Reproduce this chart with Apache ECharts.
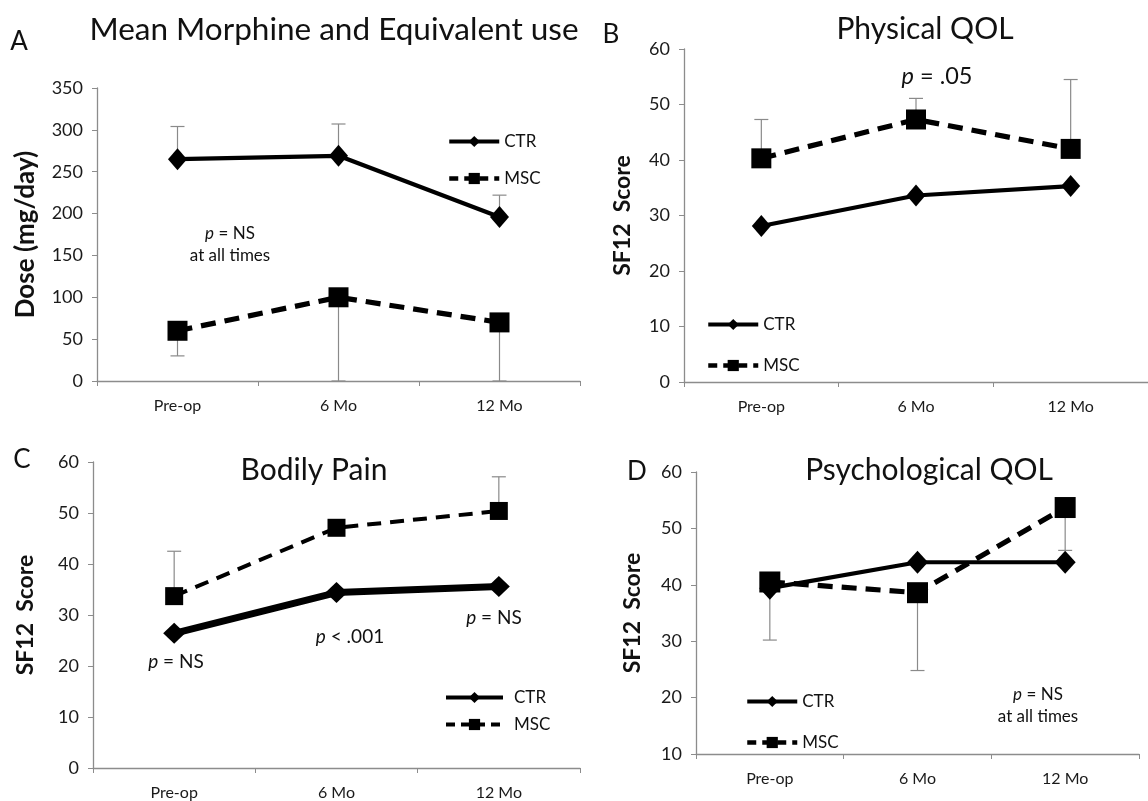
<!DOCTYPE html>
<html>
<head>
<meta charset="utf-8">
<script src="https://cdn.jsdelivr.net/npm/echarts@6/dist/echarts.min.js"></script>
<style>
html,body{margin:0;padding:0;background:#fff;}
#chart{width:1148px;height:801px;}
</style>
</head>
<body>
<div id="chart"></div>
<script>
// ---- data ----
const categories = ['Pre-op', '6 Mo', '12 Mo'];

// Panel A: Mean Morphine and Equivalent use (mg/day)
const ctrA = [265, 269, 196];
const mscA = [60, 100, 70];
const ctrA_errEnd = [304, 307, 222];   // upper bars
const mscA_errEnd = [30, 0, 0];        // lower bars

// Panel B: Physical QOL
const ctrB = [28.1, 33.6, 35.3];
const mscB = [40.3, 47.3, 42.0];
const mscB_errEnd = [47.3, 51.1, 54.5];

// Panel C: Bodily Pain
const ctrC = [26.4, 34.4, 35.6];
const mscC = [33.7, 47.1, 50.4];
const mscC_errEnd = [42.5, null, 57.1];

// Panel D: Psychological QOL
const ctrD = [39.4, 44.0, 44.0];
const mscD = [40.5, 38.6, 53.7];
const mscD_errEnd = [30.2, 24.8, 46.1];

const yTicksA = {min: 0, max: 350, interval: 50};
const yTicksBC = {min: 0, max: 60, interval: 10};
const yTicksD = {min: 10, max: 60, interval: 10};

// ---- chart ----
const FONT = 'Lato, "Open Sans", sans-serif';
const chart = echarts.init(document.getElementById('chart'));

function errSeries(name, idx, vals, ends) {
  const data = [];
  vals.forEach((v, i) => { if (ends[i] !== null && ends[i] !== undefined) data.push([i, v, ends[i]]); });
  return {
    type: 'custom', name: name, xAxisIndex: idx, yAxisIndex: idx, z: 1,
    silent: true, clip: true,
    encode: {x: 0, y: [1, 2]},
    renderItem: function (params, api) {
      const x = api.value(0);
      const p1 = api.coord([x, api.value(1)]);
      const p2 = api.coord([x, api.value(2)]);
      const cap = 7;
      return {
        type: 'group',
        children: [
          {type: 'line', shape: {x1: p1[0], y1: p1[1], x2: p2[0], y2: p2[1]}, style: {stroke: '#8a8a8a', lineWidth: 1.2}},
          {type: 'line', shape: {x1: p2[0] - cap, y1: p2[1], x2: p2[0] + cap, y2: p2[1]}, style: {stroke: '#8a8a8a', lineWidth: 1.2}}
        ]
      };
    },
    data: data
  };
}

function lineSeries(name, idx, data, kind, opts) {
  opts = opts || {};
  const isCtr = kind === 'ctr';
  return {
    type: 'line', name: name, xAxisIndex: idx, yAxisIndex: idx, z: 3,
    data: data,
    symbol: isCtr ? 'diamond' : 'rect',
    symbolSize: opts.size || (isCtr ? [19, 22] : 19),
    itemStyle: {color: '#000'},
    lineStyle: {color: '#000', width: opts.width || (isCtr ? 4.2 : 5.2), type: isCtr ? 'solid' : (opts.dash || [15, 9])},
    animation: false
  };
}

function xAxis(idx) {
  return {
    gridIndex: idx, type: 'category', data: categories, boundaryGap: true,
    axisLine: {lineStyle: {color: '#8c8c8c', width: 1.3}},
    axisTick: {show: true, length: 5, lineStyle: {color: '#8c8c8c'}},
    axisLabel: {color: '#1a1a1a', fontFamily: FONT, fontSize: 16, margin: 17},
    splitLine: {show: false}
  };
}

function yAxis(idx, t, name, gap, nameSize) {
  return {
    gridIndex: idx, type: 'value', min: t.min, max: t.max, interval: t.interval,
    name: name, nameLocation: 'middle', nameGap: gap, nameRotate: 90,
    nameTextStyle: {color: '#111', fontFamily: FONT, fontSize: nameSize, fontWeight: 'bold'},
    axisLine: {show: true, lineStyle: {color: '#8c8c8c', width: 1.3}},
    axisTick: {show: true, length: 5, lineStyle: {color: '#8c8c8c'}},
    axisLabel: {color: '#1a1a1a', fontFamily: FONT, fontSize: 18, margin: 14},
    splitLine: {show: false}
  };
}

function legend(names, left, top, gap, width, textPad, widths) {
  widths = widths || [4, 4.5];
  return {
    data: [
      {name: names[0], lineStyle: {width: widths[0], type: 'solid'}},
      {name: names[1], lineStyle: {width: widths[1], type: [9, 6]}}
    ],
    orient: 'vertical', left: left, top: top, itemGap: gap,
    itemWidth: width || 50, itemHeight: 14, selectedMode: false,
    formatter: n => n.split('|')[0],
    textStyle: {color: '#111', fontFamily: FONT, fontSize: 17, padding: [0, 0, 0, textPad || 0]}
  };
}

function txt(x, y, text, size, extra) {
  return Object.assign({
    type: 'text', x: x, y: y,
    style: {text: text, fontFamily: FONT, fontSize: size, fill: '#111', align: 'center', verticalAlign: 'middle',
      rich: {i: {fontStyle: 'italic', fontFamily: FONT, fontSize: size, fill: '#111'},
             n: {fontFamily: FONT, fontSize: size, fill: '#111'}}}
  }, extra || {});
}

const option = {
  backgroundColor: '#fff',
  animation: false,
  grid: [
    {left: 97, top: 88, width: 483, height: 293},
    {left: 684, top: 49, width: 480, height: 333},
    {left: 93, top: 462, width: 487, height: 306},
    {left: 696, top: 472, width: 443, height: 282}
  ],
  xAxis: [xAxis(0), xAxis(1), xAxis(2), xAxis(3)],
  yAxis: [
    yAxis(0, yTicksA, 'Dose (mg/day)', 58, 26),
    yAxis(1, yTicksBC, 'SF12  Score', 50, 23),
    yAxis(2, yTicksBC, 'SF12  Score', 56, 23),
    yAxis(3, yTicksD, 'SF12  Score', 52, 23)
  ],
  legend: [
    legend(['CTR|A', 'MSC|A'], 442, 128, 20),
    legend(['CTR|B', 'MSC|B'], 701, 311, 24),
    legend(['CTR|C', 'MSC|C'], 439, 684, 10, 57, 6, [4, 4]),
    legend(['CTR|D', 'MSC|D'], 740, 688, 24)
  ],
  title: [
    {text: 'Mean Morphine and Equivalent use', left: 329, top: 9, textAlign: 'center', textStyle: {fontFamily: FONT, fontSize: 31.5, fontWeight: 'normal', color: '#111'}},
    {text: 'Physical QOL', left: 920, top: 9, textAlign: 'center', textStyle: {fontFamily: FONT, fontSize: 30, fontWeight: 'normal', color: '#111'}},
    {text: 'Bodily Pain', left: 309, top: 450, textAlign: 'center', textStyle: {fontFamily: FONT, fontSize: 30, fontWeight: 'normal', color: '#111'}},
    {text: 'Psychological QOL', left: 924, top: 450, textAlign: 'center', textStyle: {fontFamily: FONT, fontSize: 30, fontWeight: 'normal', color: '#111'}}
  ],
  graphic: [
    txt(19, 42, 'A', 26),
    txt(611, 35, 'B', 26),
    txt(22, 460, 'C', 26),
    txt(637, 472, 'D', 26),
    txt(230, 234, '{i|p} = NS', 17),
    txt(230, 256, 'at all times', 17),
    txt(937, 76, '{i|p} = .05', 23.5),
    txt(176, 662, '{i|p} = NS', 19),
    txt(350, 637, '{i|p} < .001', 19),
    txt(494, 618, '{i|p} = NS', 19),
    txt(1038, 695, '{i|p} = NS', 17),
    txt(1038, 717, 'at all times', 17)
  ],
  series: [
    errSeries('errCtrA', 0, ctrA, ctrA_errEnd),
    errSeries('errMscA', 0, mscA, mscA_errEnd),
    lineSeries('CTR|A', 0, ctrA, 'ctr'),
    lineSeries('MSC|A', 0, mscA, 'msc', {size: 20}),

    errSeries('errMscB', 1, mscB, mscB_errEnd),
    lineSeries('CTR|B', 1, ctrB, 'ctr'),
    lineSeries('MSC|B', 1, mscB, 'msc', {size: 20}),

    errSeries('errMscC', 2, mscC, mscC_errEnd),
    lineSeries('CTR|C', 2, ctrC, 'ctr', {width: 7, size: [22, 21]}),
    lineSeries('MSC|C', 2, mscC, 'msc', {width: 4, size: 18, dash: [14, 9]}),

    errSeries('errMscD', 3, mscD, mscD_errEnd),
    lineSeries('CTR|D', 3, ctrD, 'ctr', {size: [21, 23]}),
    lineSeries('MSC|D', 3, mscD, 'msc', {size: 21})
  ]
};
chart.setOption(option);
</script>
</body>
</html>
